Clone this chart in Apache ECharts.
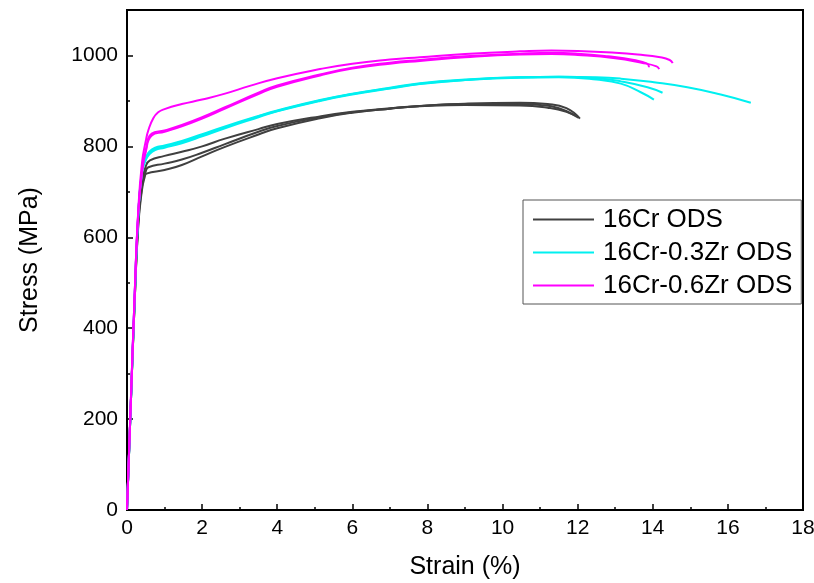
<!DOCTYPE html>
<html>
<head>
<meta charset="utf-8">
<script src="https://cdn.jsdelivr.net/npm/echarts@6/dist/echarts.min.js"></script>
<style>
  html, body { margin: 0; padding: 0; background: #fff; }
  #main { width: 814px; height: 583px; }
</style>
</head>
<body>
<div id="main"></div>
<script>
// strain (%) / stress (MPa) pairs
const cr1 = [[0, 0], [0.1, 230], [0.2, 450], [0.3, 640], [0.4, 722], [0.5, 756], [0.61, 769], [1.0, 779], [1.46, 788], [2.0, 800], [2.61, 817], [3.5, 838], [4.0, 849], [5.14, 866], [6.0, 876], [7.0, 884], [7.8, 889], [9.0, 893], [10.46, 893], [11.0, 891], [11.5, 884], [11.93, 868]]
const cr2 = [[0, 0], [0.1, 230], [0.2, 450], [0.3, 630], [0.4, 712], [0.5, 745], [0.57, 754], [1.0, 762], [1.46, 771], [2.0, 786], [2.61, 805], [3.5, 832], [4.0, 845], [5.14, 864], [6.0, 875], [7.0, 883], [7.8, 889], [9.0, 894], [10.46, 896], [11.2, 893], [11.7, 884], [12.06, 861]]
const cr3 = [[0, 0], [0.1, 230], [0.2, 450], [0.3, 625], [0.4, 705], [0.47, 732], [0.52, 740], [1.0, 748], [1.46, 759], [2.0, 778], [2.61, 799], [3.5, 826], [4.0, 840], [5.14, 862], [6.0, 874], [7.0, 883], [7.8, 888], [9.0, 891], [10.46, 890], [11.2, 885], [11.7, 876], [12.02, 863]]

const zr3a = [[0, 0], [0.1, 230], [0.2, 460], [0.3, 650], [0.4, 745], [0.5, 772], [0.6, 786], [0.75, 795], [1.0, 800], [1.46, 810], [2.0, 825], [2.61, 842], [3.5, 866], [4.0, 878], [5.14, 901], [6.0, 915], [7.0, 928], [7.8, 938], [9.0, 946], [10.46, 951], [11.5, 952], [12.5, 947], [13.15, 938], [13.68, 919], [14.03, 903]]
const zr3b = [[0, 0], [0.1, 230], [0.2, 460], [0.3, 650], [0.4, 742], [0.5, 770], [0.6, 783], [0.75, 792], [1.0, 797], [1.46, 807], [2.0, 822], [2.61, 840], [3.5, 864], [4.0, 877], [5.14, 900], [6.0, 914], [7.0, 927], [7.8, 937], [9.0, 946], [10.46, 952], [11.5, 953], [12.5, 950], [13.15, 943], [13.86, 930], [14.26, 918]]
const zr3c = [[0, 0], [0.1, 230], [0.2, 460], [0.3, 650], [0.4, 748], [0.5, 776], [0.6, 789], [0.75, 797], [1.0, 802], [1.46, 812], [2.0, 827], [2.61, 844], [3.5, 867], [4.0, 879], [5.14, 902], [6.0, 916], [7.0, 929], [7.8, 939], [9.0, 947], [10.46, 952], [11.5, 953], [12.5, 952], [13.15, 949], [14.03, 941], [14.92, 930], [15.81, 914], [16.61, 896]]

const zr6a = [[0, 0], [0.1, 235], [0.2, 465], [0.3, 660], [0.4, 765], [0.5, 812], [0.57, 836], [0.7, 862], [0.83, 875], [1.0, 882], [1.46, 893], [2.0, 903], [2.61, 916], [3.27, 933], [4.0, 950], [5.14, 970], [6.0, 982], [7.0, 991], [7.8, 996], [9.0, 1003], [10.46, 1009], [11.3, 1011], [12.0, 1010], [13.0, 1006], [13.6, 1002], [14.2, 996], [14.45, 990], [14.53, 983]]
const zr6b = [[0, 0], [0.1, 235], [0.2, 465], [0.3, 655], [0.4, 745], [0.5, 792], [0.66, 828], [1.0, 835], [1.46, 847], [2.0, 864], [2.61, 886], [3.5, 918], [4.0, 934], [5.14, 958], [6.0, 973], [7.0, 984], [7.8, 990], [9.0, 998], [10.46, 1004], [11.3, 1006], [12.0, 1004], [12.8, 998], [13.5, 990], [13.85, 982], [13.9, 974]]
const zr6c = [[0, 0], [0.1, 235], [0.2, 465], [0.3, 655], [0.4, 742], [0.5, 788], [0.66, 824], [1.0, 832], [1.46, 844], [2.0, 861], [2.61, 883], [3.5, 915], [4.0, 931], [5.14, 956], [6.0, 971], [7.0, 982], [7.8, 988], [9.0, 996], [10.46, 1002], [11.3, 1003], [12.0, 1001], [13.0, 994], [13.7, 984], [14.1, 976], [14.17, 970]]

const names = ['16Cr ODS', '16Cr-0.3Zr ODS', '16Cr-0.6Zr ODS']
const colors = ['#404040', '#00f0f0', '#ff00ff']
const groups = [[cr1, cr2, cr3], [zr3a, zr3b, zr3c], [zr6a, zr6b, zr6c]]

const font = 'Liberation Sans'
const series = []
groups.forEach((g, i) => {
  g.forEach(d => {
    series.push({
      name: names[i],
      type: 'line',
      data: d,
      showSymbol: false,
      symbol: 'none',
      smooth: 0.5,
      color: colors[i],
      lineStyle: { width: 2, color: colors[i] },
      animation: false
    })
  })
})

const chart = echarts.init(document.getElementById('main'))
chart.setOption({
  backgroundColor: '#fff',
  grid: {
    left: 127,
    top: 10,
    right: 11,
    bottom: 73,
    outerBoundsMode: 'none',
    containLabel: false,
    show: true,
    borderColor: '#000',
    borderWidth: 2
  },
  legend: {
    data: names,
    orient: 'vertical',
    left: 523,
    top: 200,
    padding: [6, 9, 5, 10],
    itemGap: 6,
    itemWidth: 61,
    itemHeight: 2,
    icon: 'rect',
    borderColor: '#555',
    borderWidth: 1,
    textStyle: {
      fontFamily: font,
      fontSize: 26,
      lineHeight: 27,
      color: '#000',
      padding: [0, 0, 0, 4]
    }
  },
  xAxis: {
    type: 'value',
    min: 0,
    max: 18,
    interval: 2,
    name: 'Strain (%)',
    nameLocation: 'middle',
    nameGap: 45,
    nameTextStyle: { fontFamily: font, fontSize: 25, color: '#000' },
    axisLine: { lineStyle: { color: '#000', width: 2 } },
    axisTick: { inside: true, length: 6, lineStyle: { color: '#000', width: 1.5 } },
    minorTick: { show: true, splitNumber: 2, length: 3, lineStyle: { color: '#000', width: 1.5 } },
    axisLabel: { fontFamily: font, fontSize: 21, color: '#000', margin: 8 },
    splitLine: { show: false }
  },
  yAxis: {
    type: 'value',
    min: 0,
    max: 1100,
    interval: 200,
    name: 'Stress (MPa)',
    nameLocation: 'middle',
    nameGap: 84,
    nameTextStyle: { fontFamily: font, fontSize: 25, color: '#000' },
    axisLine: { lineStyle: { color: '#000', width: 2 } },
    axisTick: { inside: true, length: 6, lineStyle: { color: '#000', width: 1.5 } },
    minorTick: { show: true, splitNumber: 2, length: 3, lineStyle: { color: '#000', width: 1.5 } },
    axisLabel: {
      fontFamily: font,
      fontSize: 21,
      color: '#000',
      margin: 9,
      formatter: v => (v > 1000 ? '' : v)
    },
    splitLine: { show: false }
  },
  series: series
})
</script>
</body>
</html>
